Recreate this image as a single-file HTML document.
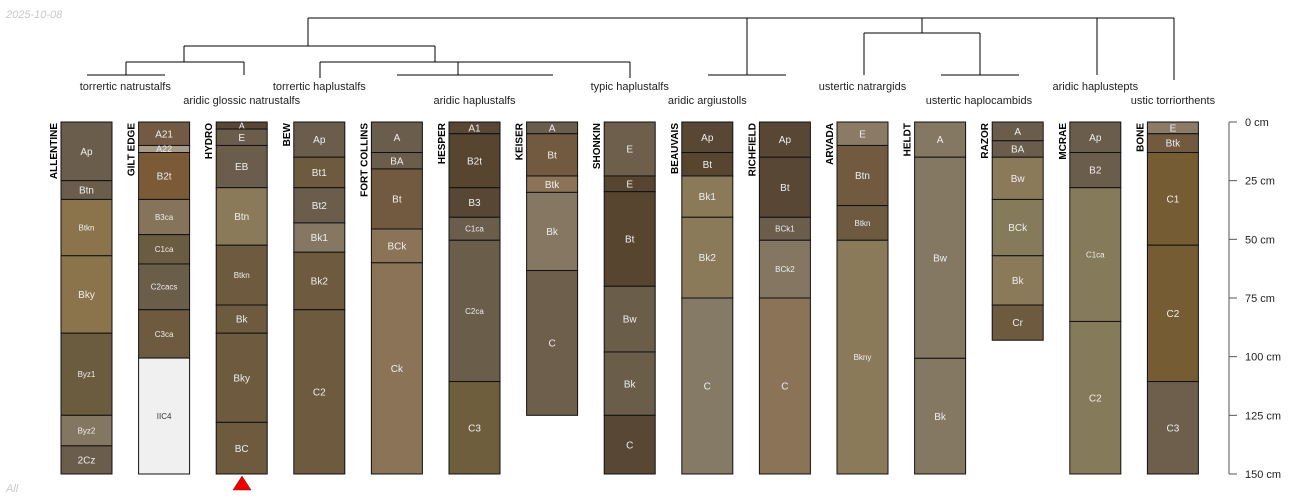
<!DOCTYPE html>
<html><head><meta charset="utf-8">
<style>
html,body{margin:0;padding:0;background:#fff;}
svg{display:block;font-family:"Liberation Sans",sans-serif;}
</style></head>
<body>
<svg id="chart" width="1300" height="500" viewBox="0 0 1300 500" xmlns="http://www.w3.org/2000/svg">
<text x="6" y="18" font-size="11" font-style="italic" fill="#c8c8c8">2025-10-08</text>
<text x="6" y="492" font-size="11" font-style="italic" fill="#c8c8c8">All</text>
<g id="dendro" stroke="#000" stroke-width="1" fill="none"></g>
<g id="taxa" font-size="11" fill="#222" text-anchor="middle"></g>
<g id="profiles"></g>
<g id="axis"></g>
<polygon points="233,490 251,490 242,476" fill="#e00" stroke="#900" stroke-width="0.5"/>
</svg>
<script>
const profileNames = ["ALLENTINE","GILT EDGE","HYDRO","BEW","FORT COLLINS","HESPER","KEISER","SHONKIN","BEAUVAIS","RICHFIELD","ARVADA","HELDT","RAZOR","MCRAE","BONE"];
const horizonNames = [
 ["Ap","Btn","Btkn","Bky","Byz1","Byz2","2Cz"],
 ["A21","A22","B2t","B3ca","C1ca","C2cacs","C3ca","IIC4"],
 ["A","E","EB","Btn","Btkn","Bk","Bky","BC"],
 ["Ap","Bt1","Bt2","Bk1","Bk2","C2"],
 ["A","BA","Bt","BCk","Ck"],
 ["A1","B2t","B3","C1ca","C2ca","C3"],
 ["A","Bt","Btk","Bk","C"],
 ["E","E","Bt","Bw","Bk","C"],
 ["Ap","Bt","Bk1","Bk2","C"],
 ["Ap","Bt","BCk1","BCk2","C"],
 ["E","Btn","Btkn","Bkny"],
 ["A","Bw","Bk"],
 ["A","BA","Bw","BCk","Bk","Cr"],
 ["Ap","B2","C1ca","C2"],
 ["E","Btk","C1","C2","C3"]
];
const horizonBottoms = [
 [25,33,57,90,125,138,150],
 [10,13,33,48,60.5,80,100.6,150],
 [3,10,28,52.5,78,90,128,150],
 [15,28,43,55.5,80,150],
 [13,20,45.6,60,150],
 [5,28,40.6,50.4,110.6,150],
 [5,23,30,63.3,125],
 [23,29.7,70,98,125,150],
 [13,23,40.6,75,150],
 [15,40.6,50.4,75,150],
 [10,35.6,50.4,150],
 [15,100.7,150],
 [8,15,33,57,78,93],
 [13,28,85,150],
 [5,13,52.5,110.6,150]
];
const horizonColors = [
 ["#6b5d4b","#6b5d4b","#8b744c","#8b744c","#6b5c40","#837761","#6b5d4b"],
 ["#725a44","#a89a88","#7a5a37","#85735a","#6a5c40","#6a5e4a","#6e5a3e","#f0f0f0"],
 ["#574734","#6b5d4b","#6b5d4b","#8b7a5a","#6e5a3e","#6e5a3e","#6e5a3e","#6e5a3e"],
 ["#6b5d4b","#6e5a3e","#6b5d4b","#857762","#6e5a3e","#6e5a3e"],
 ["#6b5d4b","#6b5d4b","#725a40","#8b7358","#8b7358"],
 ["#574734","#574530","#574734","#6b5d4b","#6a5e4a","#6e5e3e"],
 ["#6b5d4b","#725a40","#8b7358","#857762","#6e5e4c"],
 ["#6e5e4c","#574530","#574530","#6a5e4a","#6a5e4a","#574734"],
 ["#574734","#574530","#8b7a5a","#8b7a5a","#857a66"],
 ["#574734","#574734","#6b5d4b","#857662","#8b7358"],
 ["#8b7a66","#725a40","#6e5a40","#8b7a5a"],
 ["#857862","#857862","#857862"],
 ["#6b5d4b","#6b5d4b","#8b7a5a","#857a5a","#8b7a5a","#6e5a3e"],
 ["#6b5d4b","#6b5d4b","#857a5a","#857a5a"],
 ["#8b7a66","#725a40","#755c33","#755c33","#6e5e4c"]
];
const depthTicks = [0,25,50,75,100,125,150];
const taxaNames = ["torrertic natrustalfs","aridic glossic natrustalfs","torrertic haplustalfs","aridic haplustalfs","typic haplustalfs","aridic argiustolls","ustertic natrargids","ustertic haplocambids","aridic haplustepts","ustic torriorthents"];
const taxaPos = [0.5,2,3,5,7,8,10,11.5,13,14];

const NS="http://www.w3.org/2000/svg";
const y0=122, pxPerCm=352/150, x0=86.5, dx=77.6, w=51;
const yS=d=>y0+d*pxPerCm;
const xC=i=>x0+i*dx;
function mk(tag,attrs,parent){const e=document.createElementNS(NS,tag);for(const k in attrs)e.setAttribute(k,attrs[k]);parent.appendChild(e);return e;}

const prof=document.getElementById('profiles');
profileNames.forEach((nm,i)=>{
  const g=mk('g',{},prof);
  
  
  const xl=xC(i)-w/2;
  let top=0;
  horizonBottoms[i].forEach((b,j)=>{
    const r=mk('rect',{x:xl,y:yS(top),width:w,height:yS(b)-yS(top),fill:horizonColors[i][j],stroke:'#111','stroke-width':1},g);
    
    
    const h=yS(b)-yS(top);
    const hn=horizonNames[i][j];
    const fs=hn.length>=4?8:(h<8?9:10);
    const t=mk('text',{x:xC(i),y:(yS(top)+yS(b))/2+fs*0.36,'font-size':fs,'text-anchor':'middle',fill:horizonColors[i][j]=="#f0f0f0"?"#333":"#eee"},g);
    t.textContent=hn;
    
    
    top=b;
  });
  const lab=mk('text',{x:0,y:0,'font-size':10,'font-weight':'bold','text-anchor':'end',fill:'#000',transform:`translate(${xl-4},${y0+1}) rotate(-90)`},g);
  lab.textContent=nm;
  
  
});

const taxa=document.getElementById('taxa');
taxaNames.forEach((t,k)=>{
  const e=mk('text',{x:x0+taxaPos[k]*dx,y:k%2?104:90},taxa);
  e.textContent=t;
  
  
});

const dg=document.getElementById('dendro');
const segs=[
 [308,18,1174,18],[308,18,308,46],[184,46,435,46],[184,46,184,62],[126,62,244,62],[126,62,126,75],[87,75,165,75],[244,62,244,75],
 [435,46,435,62],[320,62,630,62],[320,62,320,78],[630,62,630,78],[458,62,458,75],[397,75,553,75],
 [747,18,747,75],[708,75,786,75],[922,18,922,33],[864,33,980,33],[864,33,864,75],[980,33,980,75],[941,75,1019,75],
 [1097,18,1097,75],[1174,18,1174,80]
];
segs.forEach(s=>{const l=mk('line',{x1:s[0],y1:s[1],x2:s[2],y2:s[3]},dg);

});

const ax=document.getElementById('axis');
mk('line',{x1:1229,y1:yS(0),x2:1229,y2:yS(150),stroke:'#555'},ax);
depthTicks.forEach(d=>{
  mk('line',{x1:1229,y1:yS(d),x2:1237,y2:yS(d),stroke:'#555'},ax);
  const t=mk('text',{x:1245,y:yS(d)+4,'font-size':11,fill:'#222'},ax);
  t.textContent=d+' cm';
  
  
});
</script>
</body></html>
